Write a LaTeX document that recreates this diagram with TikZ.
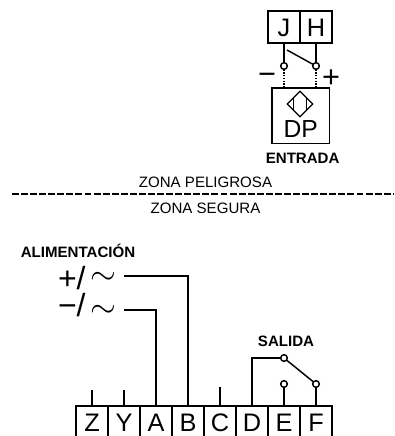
\documentclass[tikz,border=0pt]{standalone}
\usepackage{fontspec}
\setmainfont{Liberation Sans}
\usetikzlibrary{positioning}
\usetikzlibrary{calc}
\tikzset{
    terminal/.style={draw, line width=1.1pt, minimum width=24pt, minimum height=24pt, inner sep=0pt, outer sep=0pt, font=\fontsize{19}{19}\selectfont, text height=14.4pt, text depth=0pt},
    contact/.style={draw, circle, line width=1.1pt, minimum size=5pt, inner sep=0pt, outer sep=0pt, fill=white},
    wire/.style={line width=1.1pt},
    caption/.style={font=\fontsize{11.3}{11.3}\selectfont\bfseries, inner sep=0pt},
    zone/.style={font=\fontsize{11.3}{11.3}\selectfont, inner sep=0pt},
    sign/.style={font=\fontsize{23}{23}\selectfont, inner sep=0pt},
    supply/.style={font=\fontsize{24}{24}\selectfont, inner sep=0pt, anchor=base east}
}
\begin{document}
\begin{tikzpicture}[x=0.75pt, y=-0.75pt, node distance=0pt]
        \useasboundingbox (0,0) rectangle (395,436);

        % Input side
        \node[terminal, anchor=north west] (inJ) at (268,11) {J};
        \node[terminal, right=of inJ] (inH) {H};
        \node[contact] (inMinus) at (284,66) {};
        \node[contact] (inPlus) at (316,66) {};
        \node[draw, line width=1.1pt, minimum width=43pt, minimum height=41.5pt, inner sep=0pt, outer sep=0pt, anchor=north west] (dpBox) at (272,88) {};
        \node[font=\fontsize{18.5}{18.5}\selectfont, inner sep=0pt] (dpText) at (300.7,129.5) {DP};
        \node[draw, line width=0.9pt, minimum size=13.5pt, inner sep=0pt, rotate=45] (dpIcon) at (300,104) {};
        \coordinate (swStart) at (287,50);
        \node[sign] (minusSign) at (267,79) {−};
        \node[sign] (plusSign) at (331,79) {+};
        \node[caption, below=7pt of dpBox, xshift=1.5pt] (entrada) {ENTRADA};
        \draw[wire] (inJ.south) -- (inMinus);
        \draw[wire] (inH.south) -- (inPlus);
        \draw[wire] (swStart) -- (inPlus);
        \draw[wire, densely dotted] (inMinus) -- (inMinus |- dpBox.north);
        \draw[wire, densely dotted] (inPlus) -- (inPlus |- dpBox.north);
        \draw[line width=0.9pt] (293.3,98) -- (293.3,110);
        \draw[line width=0.9pt] (306.7,98) -- (306.7,110);

        % Zones
        \node[zone] (zonaP) at (205.5,182) {ZONA PELIGROSA};
        \node[zone] (zonaS) at (205.5,208) {ZONA SEGURA};
        \coordinate (borderL) at (12,194);
        \coordinate (borderR) at (393,194);
        \draw[line width=1.1pt, dash pattern=on 5.2pt off 1.6pt] (borderL) -- (borderR);

        % Supply
        \node[caption] (alim) at (78,251) {ALIMENTACIÓN};
        \node[supply] (plusAc) at (117,289.5) {+/\kern4pt\raisebox{3.4pt}{$\sim$}};
        \node[supply] (minusAc) at (117,316.5) {−/\kern4pt\raisebox{-1pt}{$\sim$}};

        % Terminals
        \node[terminal, anchor=north west] (termZ) at (76,406) {Z};
        \node[terminal, right=of termZ] (termY) {Y};
        \node[terminal, right=of termY] (termA) {A};
        \node[terminal, right=of termA] (termB) {B};
        \node[terminal, right=of termB] (termC) {C};
        \node[terminal, right=of termC] (termD) {D};
        \node[terminal, right=of termD] (termE) {E};
        \node[terminal, right=of termE] (termF) {F};

        \coordinate (plusStart) at (124,276);
        \coordinate (minusStart) at (124,310);
        \draw[wire] (plusStart) -| (termB.north);
        \draw[wire] (minusStart) -| (termA.north);
        \coordinate (endZ) at (92,390);
        \coordinate (endY) at (124,390);
        \coordinate (endC) at (220,387);
        \draw[wire] (termZ.north) -- (endZ);
        \draw[wire] (termY.north) -- (endY);
        \draw[wire] (termC.north) -- (endC);

        % Output contact
        \node[contact] (outD) at (284,358) {};
        \node[contact] (outE) at (284,384) {};
        \node[contact] (outF) at (316,384) {};
        \node[caption] (salida) at (286,341) {SALIDA};
        \draw[wire] (termD.north) |- (outD);
        \draw[wire] (termE.north) -- (outE);
        \draw[wire] (termF.north) -- (outF);
        \draw[wire] (outD) -- (outF);

    \end{tikzpicture}
\end{document}
